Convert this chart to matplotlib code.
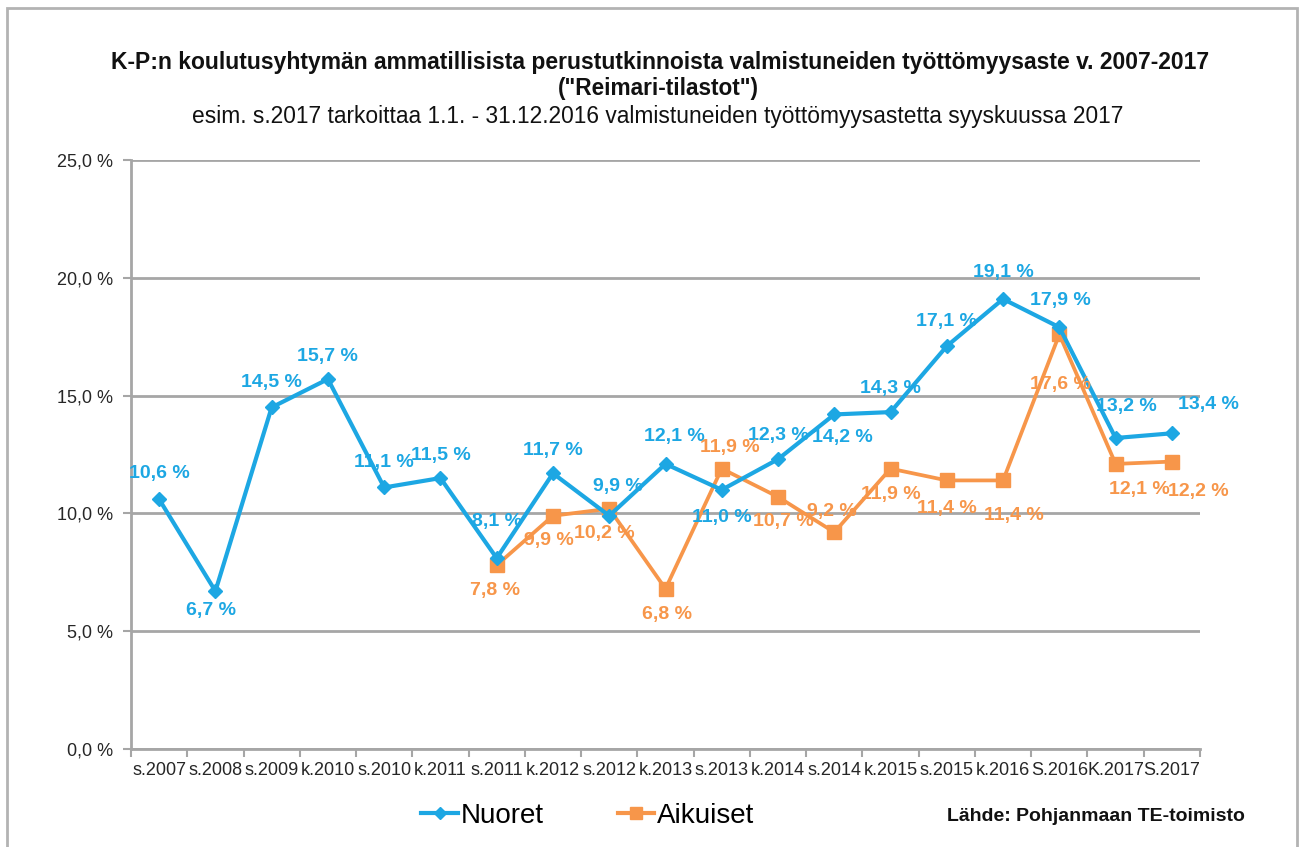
import matplotlib
matplotlib.use("Agg")
import matplotlib.pyplot as plt
from matplotlib.lines import Line2D
from matplotlib.patches import Rectangle
import numpy as np

categories = ["s.2007", "s.2008", "s.2009", "k.2010", "s.2010", "k.2011", "s.2011",
              "k.2012", "s.2012", "k.2013", "s.2013", "k.2014", "s.2014", "k.2015",
              "s.2015", "k.2016", "S.2016", "K.2017", "S.2017"]
nuoret = [10.6, 6.7, 14.5, 15.7, 11.1, 11.5, 8.1, 11.7, 9.9, 12.1, 11.0, 12.3,
          14.2, 14.3, 17.1, 19.1, 17.9, 13.2, 13.4]
aikuiset_start = 6
aikuiset = [7.8, 9.9, 10.2, 6.8, 11.9, 10.7, 9.2, 11.9, 11.4, 11.4, 17.6, 12.1, 12.2]
y_ticks = [0, 5, 10, 15, 20, 25]

title1 = "K-P:n koulutusyhtymän ammatillisista perustutkinnoista valmistuneiden työttömyysaste v. 2007-2017"
title2 = "(\"Reimari-tilastot\")"
subtitle = "esim. s.2017 tarkoittaa 1.1. - 31.12.2016 valmistuneiden työttömyysastetta syyskuussa 2017"
source = "Lähde: Pohjanmaan TE-toimisto"
series_names = ["Nuoret", "Aikuiset"]

# label offsets (pixels: dx, dy up)
n_off = [(0, 26), (-4, -19), (0, 25), (0, 23), (0, 25), (0, 23), (0, 37), (0, 23),
         (9, 29), (9, 27), (0, -28), (0, 24), (8, -23), (0, 24), (0, 25), (0, 27),
         (1, 27), (11, 32), (37, 29)]
a_off = [(-2, -25), (-4, -25), (-5, -25), (1, -26), (8, 21), (5, -25), (-2, 21),
         (0, -26), (0, -28), (11, -35), (1, -50), (24, -26), (26, -30)]

BLUE = "#1da7e3"
ORANGE = "#f7964a"
GRID = "#a6a6a6"

plt.rcParams['font.family'] = ['Liberation Sans', 'DejaVu Sans']

W, H = 1303, 847
fig = plt.figure(figsize=(W / 100, H / 100), dpi=100)
fig.patches.append(Rectangle((7 / W, -0.01), (1297 - 7) / W, 1.01 - 8 / H, transform=fig.transFigure,
                             fill=False, edgecolor="#b3b3b3", linewidth=2))

ax = fig.add_axes([131 / W, (H - 749) / H, (1200 - 131) / W, (749 - 160) / H])
x = np.arange(len(categories))
xa = np.arange(aikuiset_start, aikuiset_start + len(aikuiset))

ax.set_xlim(-0.5, len(categories) - 0.5)
ax.set_ylim(0, 25)
ax.set_yticks(y_ticks)
ax.set_yticklabels([f"{v:.1f}".replace(".", ",") + " %" for v in y_ticks], fontsize=13, color="#262626")
ax.set_xticks(x)
ax.set_xticklabels(categories, fontsize=13, color="#262626")
ax.set_xticks(np.arange(-0.5, len(categories)), minor=True)
ax.tick_params(axis='x', which='major', length=0, pad=9)
ax.tick_params(axis='x', which='minor', length=6, width=1.5, color=GRID, direction='out')
ax.tick_params(axis='y', which='major', length=6, width=1.5, color=GRID, direction='out', pad=7)
ax.yaxis.grid(True, color=GRID, linewidth=2)
ax.set_axisbelow(True)
for s in ["top", "right"]:
    ax.spines[s].set_visible(False)
for s in ["left", "bottom"]:
    ax.spines[s].set_color(GRID)
    ax.spines[s].set_linewidth(2)

ax.plot(x, nuoret, color=BLUE, linewidth=3.0, marker="D", markersize=7, zorder=4, clip_on=False)
ax.plot(xa, aikuiset, color=ORANGE, linewidth=2.7, marker="s", markersize=10, zorder=3, clip_on=False)

def fmt(v):
    return f"{v:.1f}".replace(".", ",") + " %"

for xi, v, (dx, dy) in zip(x, nuoret, n_off):
    ax.annotate(fmt(v), (xi, v), xytext=(dx * 0.72, dy * 0.72), textcoords="offset points",
                ha="center", va="center", fontsize=14, fontweight="bold", color=BLUE, zorder=6)
for xi, v, (dx, dy) in zip(xa, aikuiset, a_off):
    ax.annotate(fmt(v), (xi, v), xytext=(dx * 0.72, dy * 0.72), textcoords="offset points",
                ha="center", va="center", fontsize=14, fontweight="bold", color=ORANGE, zorder=6)

# titles, fitted to target widths
renderer = fig.canvas.get_renderer()
def fitted(txt, cx, cy, target_w, fs, **kw):
    t = fig.text(cx / W, 1 - cy / H, txt, ha="center", va="center", fontsize=fs, **kw)
    w = t.get_window_extent(renderer=renderer).width
    t.set_fontsize(fs * target_w / w)
    return t

fitted(title1, 660, 62, 1104, 15, fontweight="bold", color="#111111")
fitted(title2, 658, 88, 203, 15, fontweight="bold", color="#111111")
fitted(subtitle, 658, 116, 937, 14, color="#111111")
fitted(source, 1096, 816, 298, 13, fontweight="bold", color="#111111")

handles = [Line2D([], [], color=BLUE, linewidth=3, marker="D", markersize=6),
           Line2D([], [], color=ORANGE, linewidth=3, marker="s", markersize=8)]
fig.legend(handles, series_names, loc="center", bbox_to_anchor=(588 / W, 1 - 816 / H), ncol=2,
           frameon=False, fontsize=20, handlelength=1.3, handletextpad=0.1, columnspacing=2.7,
           borderpad=0, borderaxespad=0)

fig.savefig("out.png", dpi=100)
